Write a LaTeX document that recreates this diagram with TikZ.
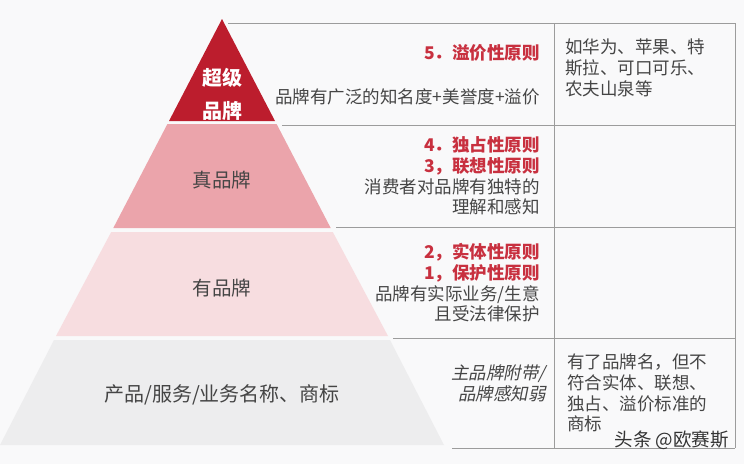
\documentclass[tikz,border=0pt]{standalone}
\usepackage{fontspec}
\setmainfont{Noto Sans CJK SC}
\newfontfamily\slantcjk[FakeSlant=0.2]{Noto Sans CJK SC}
\usepackage{xcolor}
\usetikzlibrary{positioning}

\definecolor{bgwhite}{HTML}{F9F9FA}
\definecolor{topred}{HTML}{BC1D2D}
\definecolor{midpink}{HTML}{EBA4AB}
\definecolor{lowpink}{HTML}{F7DDE0}
\definecolor{basegray}{HTML}{EDEDEE}
\definecolor{rulegray}{HTML}{9C9C9C}
\definecolor{textgray}{HTML}{454545}
\definecolor{rulered}{HTML}{C8303F}

\begin{document}
\begin{tikzpicture}[x=1pt, y=-1pt,
    cell/.style={inner sep=0pt, text=textgray, font=\fontsize{17.5}{20.7}\selectfont},
    level/.style={inner sep=0pt, text=textgray, font=\fontsize{19.5}{24}\selectfont},
    rule/.style={draw=rulegray, line width=1pt}]
        \fill[bgwhite] (0,0) rectangle (744,464);
        \useasboundingbox (0,0) rectangle (744,464);

        \fill[topred] (222,19) -- (275,121) -- (169,121) -- cycle;
        \fill[midpink] (167.4,124) -- (276.6,124) -- (330.7,228) -- (113.3,228) -- cycle;
        \fill[lowpink] (111.2,232) -- (332.8,232) -- (388,336) -- (56,336) -- cycle;
        \fill[basegray] (54,340) -- (390,340) -- (444,445) -- (0,445) -- cycle;

        \draw[rule] (228,23) -- (735,23)
            (282,125) -- (735,125)
            (336,227) -- (735,227)
            (393,338) -- (735,338)
            (452,448) -- (735,448)
            (554,23) -- (554,448)
            (735,23) -- (735,448);

        \node[level, text=white, font=\fontsize{20}{33}\selectfont\bfseries, align=center] (super) at (222,94) {超级\\品牌};
        \node[level] (true) at (222,180) {真品牌};
        \node[level] (have) at (222,288) {有品牌};
        \node[level, font=\fontsize{20}{24}\selectfont] (base) at (222,395) {产品/服务/业务名称、商标};

        \node[cell, text=rulered, font=\fontsize{17.5}{20.7}\selectfont\bfseries, anchor=east] (r5) at (540,53) {5．溢价性原则};
        \node[cell, anchor=east] (d5) at (540,97) {品牌有广泛的知名度+美誉度+溢价};
        \node[cell, anchor=east, align=right] (r43) at (540,176) {\textcolor{rulered}{\bfseries 4．独占性原则}\\\textcolor{rulered}{\bfseries 3，联想性原则}\\消费者对品牌有独特的\\理解和感知};
        \node[cell, anchor=east, align=right] (r21) at (540,283) {\textcolor{rulered}{\bfseries 2，实体性原则}\\\textcolor{rulered}{\bfseries 1，保护性原则}\\品牌有实际业务/生意\\且受法律保护};
        \node[cell, anchor=east, align=right, font=\fontsize{17.5}{20.7}\slantcjk] (weak) at (546,383) {主品牌附带/\\品牌感知弱};

        \node[cell, anchor=west, align=left] (ex5) at (565,68) {如华为、苹果、特\\斯拉、可口可乐、\\农夫山泉等};
        \node[cell, anchor=west, align=left] (ex0) at (567,393) {有了品牌名，但不\\符合实体、联想、\\独占、溢价标准的\\商标};

        \node[cell, text=black!80, font=\fontsize{18.5}{20}\selectfont, anchor=east] (mark) at (729,440) {头条 @欧赛斯};
    \end{tikzpicture}
\end{document}
